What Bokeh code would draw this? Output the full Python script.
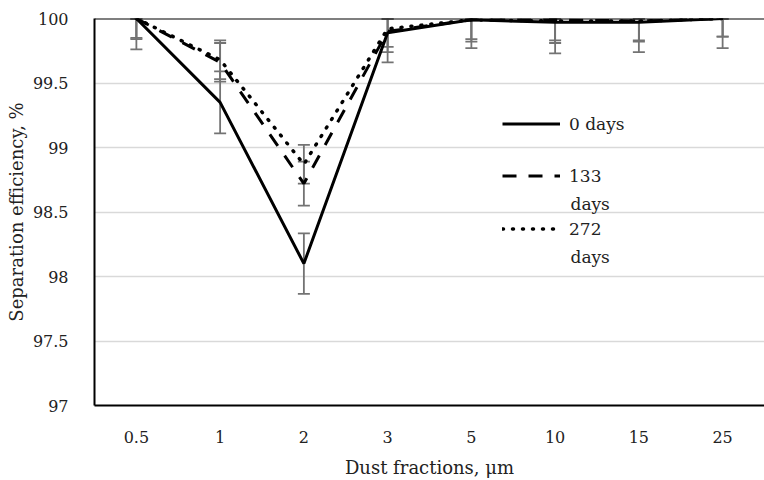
import numpy as np
from bokeh.plotting import figure
from bokeh.models import (FactorRange, Range1d, ColumnDataSource, Whisker, TeeHead,
                          Legend, LegendItem, FixedTicker, Span, Label)
from bokeh.embed import file_html
from bokeh.resources import INLINE

# ---- data ----
fractions = ["0.5", "1", "2", "3", "5", "10", "15", "25"]
eff_0 = [100.0, 99.35, 98.10, 99.89, 99.99, 99.97, 99.97, 100.0]
eff_133 = [100.0, 99.66, 98.72, 99.90, 99.99, 99.99, 99.98, 100.0]
eff_272 = [100.0, 99.68, 98.87, 99.92, 99.99, 99.98, 99.98, 100.0]
err_0 = [0.24, 0.24, 0.235, 0.23, 0.22, 0.24, 0.23, 0.23]
err_133 = [0.15, 0.15, 0.17, 0.16, 0.17, 0.16, 0.16, 0.14]
err_272 = [0.16, 0.15, 0.15, 0.14, 0.15, 0.17, 0.15, 0.14]
# legend texts as laid out in the reference (first line / wrapped second line)
legend_first = ["0 days", "133", "272"]
legend_second = [None, "days", "days"]
y_ticks = [97, 97.5, 98, 98.5, 99, 99.5, 100]
y_tick_labels = ["97", "97.5", "98", "98.5", "99", "99.5", "100"]

FONT = "DejaVu Serif"
TXT = "#222222"

p = figure(width=764, height=480,
           x_range=FactorRange(factors=fractions, range_padding=0),
           y_range=Range1d(97, 100),
           output_backend="svg", toolbar_location=None,
           min_border_left=94, min_border_right=0,
           min_border_top=18, min_border_bottom=75)
p.outline_line_color = None
p.background_fill_color = "white"
p.border_fill_color = "white"

# grid
p.xgrid.grid_line_color = None
p.ygrid.ticker = FixedTicker(ticks=y_ticks)
p.ygrid.grid_line_color = "#d9d9d9"
p.ygrid.grid_line_width = 1.5

# axes
p.yaxis.ticker = FixedTicker(ticks=y_ticks)
p.yaxis.major_label_overrides = {t: l for t, l in zip(y_ticks, y_tick_labels)}
for ax in (p.xaxis[0], p.yaxis[0]):
    ax.axis_line_color = "black"
    ax.axis_line_width = 2
    ax.major_tick_line_color = None
    ax.minor_tick_line_color = None
    ax.major_label_text_font = FONT
    ax.major_label_text_font_size = "16px"
    ax.major_label_text_color = TXT
    ax.axis_label_text_font = FONT
    ax.axis_label_text_font_size = "18px"
    ax.axis_label_text_font_style = "normal"
    ax.axis_label_text_color = TXT
p.yaxis.major_label_standoff = 20
p.yaxis.axis_label_standoff = 3
p.xaxis.major_label_standoff = 19
p.xaxis.axis_label_standoff = 11
p.yaxis.axis_label = "Separation efficiency, %"
p.xaxis.axis_label = "Dust fractions, μm"

p.add_layout(Span(location=100, dimension="width", line_color="black", line_width=2))

# error bars
gray = "#737373"
for vals, errs in ((eff_0, err_0), (eff_133, err_133), (eff_272, err_272)):
    v = np.array(vals)
    e = np.array(errs)
    src = ColumnDataSource(dict(x=fractions, upper=np.minimum(v + e, 100.0), lower=v - e))
    w = Whisker(base="x", upper="upper", lower="lower", source=src,
                line_color=gray, line_width=1.8, level="underlay",
                upper_head=TeeHead(size=12, line_color=gray, line_width=1.8),
                lower_head=TeeHead(size=12, line_color=gray, line_width=1.8))
    p.add_layout(w)

# lines
src = ColumnDataSource(dict(x=fractions, a=eff_0, b=eff_133, c=eff_272))
r0 = p.line("x", "a", source=src, line_color="black", line_width=3)
r1 = p.line("x", "b", source=src, line_color="black", line_width=3, line_dash="14 12")
r2 = p.line("x", "c", source=src, line_color="black", line_width=3.5,
            line_dash="1 9", line_cap="round")

# legend entries placed like the reference (text wraps onto a second line)
locs = [(408, 268), (408, 216), (408, 163)]
for first, second, r, loc in zip(legend_first, legend_second, (r0, r1, r2), locs):
    leg = Legend(items=[LegendItem(label=first, renderers=[r])], location=loc,
                 padding=0, margin=0, spacing=0, border_line_color=None,
                 background_fill_alpha=0, glyph_width=58, glyph_height=27,
                 label_standoff=9, label_text_font=FONT,
                 label_text_font_size="17px", label_text_color=TXT,
                 label_height=27)
    p.add_layout(leg)
    if second:
        p.add_layout(Label(x=loc[0] + 68, y=loc[1] - 14, x_units="screen", y_units="screen",
                           text=second, text_font=FONT, text_font_size="17px",
                           text_color=TXT, text_baseline="middle"))

open("out.html", "w").write(file_html(p, INLINE))
